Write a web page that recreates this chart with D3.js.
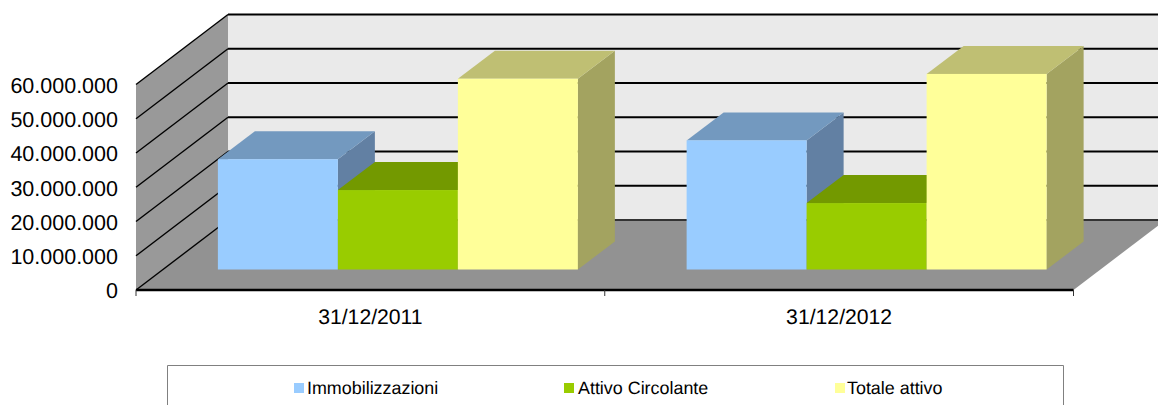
<!DOCTYPE html>
<html>
<head>
<meta charset="utf-8">
<script src="https://cdn.jsdelivr.net/npm/d3@7"></script>
<style>
  html, body { margin: 0; padding: 0; background: #fff; overflow: hidden; }
  text { font-family: "Liberation Sans", Arial, sans-serif; fill: #000; text-rendering: geometricPrecision; }
</style>
</head>
<body>
<div id="chart"></div>
<script>
const categories = ["31/12/2011", "31/12/2012"];
const seriesNames = ["Immobilizzazioni", "Attivo Circolante", "Totale attivo"];
const immobilizzazioni = [32200000, 37700000];
const attivoCircolante = [23200000, 19400000];
const totaleAttivo = [55700000, 57100000];
const seriesValues = [immobilizzazioni, attivoCircolante, totaleAttivo];
const yTicks = [0, 10000000, 20000000, 30000000, 40000000, 50000000, 60000000];

const frontColors = ["#99ccff", "#99cc00", "#ffff99"];
const topColors = ["#7399bf", "#739900", "#bfbf73"];
const sideColors = ["#6280a3", "#628200", "#a3a360"];

const width = 1158;
const height = 405;
const left = 136, right = 1073.5, bottom = 290, top60 = 84.5;
// depth of the box and of the bars
const depthX = 92, depthY = 70;
const barDepthX = 37, barDepthY = 28;
// bars stand part way back on the floor
const floorX = 27.5, floorY = 20.5;

const svg = d3.select("#chart").append("svg")
  .attr("width", width)
  .attr("height", height)
  .style("display", "block");

const y = d3.scaleLinear().domain([0, 60000000]).range([bottom, top60]);
const x0 = d3.scaleBand().domain(categories).range([left, right]);
const x1 = d3.scaleBand().domain(d3.range(seriesNames.length)).range([0, 360]);
const italian = d3.formatLocale({ decimal: ",", thousands: ".", grouping: [3], currency: ["€", ""] });

const poly = pts => pts.map(p => p.join(",")).join(" ");

// walls and floor
svg.append("polygon")
  .attr("points", poly([[left, y(60000000)], [left + depthX, y(60000000) - depthY], [left + depthX, bottom - depthY], [left, bottom]]))
  .attr("fill", "#999999");
svg.append("polygon")
  .attr("points", poly([[left + depthX, y(60000000) - depthY], [right + depthX, y(60000000) - depthY], [right + depthX, bottom - depthY], [left + depthX, bottom - depthY]]))
  .attr("fill", "#eaeaea");
svg.append("polygon")
  .attr("points", poly([[left, bottom], [left + depthX, bottom - depthY], [right + depthX, bottom - depthY], [right, bottom]]))
  .attr("fill", "#929292");

// gridlines
svg.selectAll(".grid-side").data(yTicks).enter().append("line")
  .attr("x1", left).attr("y1", d => y(d))
  .attr("x2", left + depthX).attr("y2", d => y(d) - depthY)
  .attr("stroke", "#000").attr("stroke-width", 1.4);
svg.selectAll(".grid-back").data(yTicks).enter().append("line")
  .attr("x1", left + depthX).attr("y1", d => y(d) - depthY)
  .attr("x2", right + depthX).attr("y2", d => y(d) - depthY)
  .attr("stroke", d => d === 0 ? "#333" : "#000").attr("stroke-width", 2);

// bars
categories.forEach((cat, c) => {
  const groupLeft = x0(cat) + (x0.bandwidth() - 360) / 2 + floorX;
  seriesValues.forEach((values, s) => {
    const xa = groupLeft + x1(s);
    const xb = xa + x1.bandwidth();
    const yb = bottom - floorY;
    const yt = y(values[c]) - floorY;
    const g = svg.append("g").attr("class", "bar");
    g.append("polygon")
      .attr("points", poly([[xb, yt], [xb + barDepthX, yt - barDepthY], [xb + barDepthX, yb - barDepthY], [xb, yb]]))
      .attr("fill", sideColors[s]);
    g.append("polygon")
      .attr("points", poly([[xa, yt], [xa + barDepthX, yt - barDepthY], [xb + barDepthX, yt - barDepthY], [xb, yt]]))
      .attr("fill", topColors[s]);
    g.append("rect")
      .attr("x", xa).attr("y", yt)
      .attr("width", xb - xa).attr("height", yb - yt)
      .attr("fill", frontColors[s]);
  });
});

// y axis labels
const yAxis = d3.axisLeft(y).tickValues(yTicks).tickSize(0).tickPadding(18).tickFormat(italian.format(",d"));
const yG = svg.append("g").attr("transform", `translate(${left},1)`).call(yAxis);
yG.select(".domain").remove();
yG.selectAll("text").style("font-size", "21.5px").attr("fill", "#000");

// x axis
const xAxis = d3.axisBottom(x0).tickSize(0).tickPadding(19);
const xG = svg.append("g").attr("transform", `translate(0,${bottom})`).call(xAxis);
xG.select(".domain").remove();
xG.selectAll("text").style("font-size", "21.2px").attr("fill", "#000");
svg.append("line")
  .attr("x1", left).attr("x2", right).attr("y1", bottom).attr("y2", bottom)
  .attr("stroke", "#000").attr("stroke-width", 2.4);
svg.selectAll(".x-tick").data([left, x0(categories[1]), right]).enter().append("line")
  .attr("x1", d => d).attr("x2", d => d)
  .attr("y1", bottom).attr("y2", bottom + 6)
  .attr("stroke", "#333").attr("stroke-width", 1);

// legend
svg.append("path")
  .attr("d", "M167.5,405V365.5H1063.5V405")
  .attr("fill", "none").attr("stroke", "#808080").attr("stroke-width", 1);
const legendX = [294, 564, 835];
const legendTextX = [307, 578, 847];
seriesNames.forEach((name, s) => {
  svg.append("rect")
    .attr("x", legendX[s]).attr("y", 383)
    .attr("width", 10).attr("height", 10)
    .attr("fill", frontColors[s]);
  svg.append("text")
    .attr("x", legendTextX[s]).attr("y", 394)
    .style("font-size", "17.9px")
    .text(name);
});
</script>
</body>
</html>
